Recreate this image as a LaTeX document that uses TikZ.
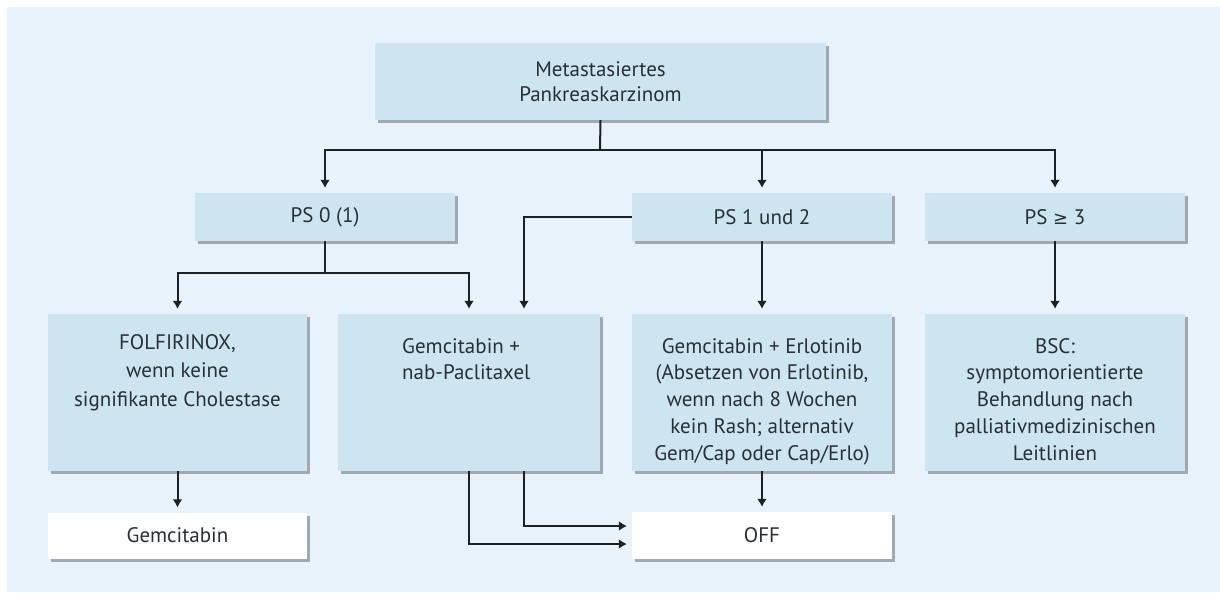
\documentclass[tikz,border=0pt]{standalone}
\usepackage{fontspec}
\setmainfont{PT Sans}
\newfontfamily\symfont{DejaVu Sans}
\usetikzlibrary{shadows,arrows.meta}
\definecolor{panel}{HTML}{E8F2FB}
\definecolor{boxfill}{HTML}{CDE4F1}
\definecolor{ink}{HTML}{283036}
\definecolor{lineink}{HTML}{1C2126}
\begin{document}
\begin{tikzpicture}[x=1pt,y=-1pt,
  shadowed/.style={drop shadow={shadow xshift=2.5pt,shadow yshift=-3pt,fill=black,opacity=0.3}},
  box/.style={shadowed,fill=boxfill,draw=none,inner sep=0pt,text=ink,align=center,
    font=\fontsize{21}{25}\selectfont},
  whitebox/.style={box,fill=white},
  txt/.style={text=ink,inner sep=0pt,align=center,font=\fontsize{21}{26.8}\selectfont},
  conn/.style={draw=lineink,line width=2pt},
  arr/.style={conn,-{Latex[length=8pt,width=10pt]},shorten >=5pt}
]
\useasboundingbox (0,0) rectangle (1220,592);
\fill[white] (0,0) rectangle (1220,592);
\fill[panel] (7,7) rectangle (1220,592);

% level 0
\node[box,minimum width=451pt,minimum height=77pt] (top) at (600.5,81.5) {Metastasiertes\\Pankreaskarzinom};

% level 1
\node[box,minimum width=260pt,minimum height=48pt] (ps0) at (325,217) {PS 0 (1)};
\node[box,minimum width=260pt,minimum height=48pt] (ps12) at (762,217) {PS 1 und 2};
\node[box,minimum width=260pt,minimum height=48pt] (ps3) at (1055,217) {PS {\symfont\fontsize{18}{25}\selectfont ≥} 3};

% level 2
\node[box,minimum width=259pt,minimum height=157pt] (folf) at (177.5,392.5) {};
\node[box,minimum width=262pt,minimum height=157pt] (gemnab) at (469,392.5) {};
\node[box,minimum width=260pt,minimum height=157pt] (gemerlo) at (762,392.5) {};
\node[box,minimum width=260pt,minimum height=157pt] (bsc) at (1055,392.5) {};

\node[txt,anchor=north,font=\fontsize{21}{28.5}\selectfont] (folft) at (177.5,334) {FOLFIRINOX,\\wenn keine\\signifikante Cholestase};
\node[txt,anchor=north west,align=left] (gemnabt) at (402,338) {Gemcitabin +\\nab-Paclitaxel};
\node[txt,anchor=north] (gemerlot) at (762,338) {Gemcitabin + Erlotinib\\(Absetzen von Erlotinib,\\wenn nach 8 Wochen\\kein Rash; alternativ\\Gem/Cap oder Cap/Erlo)};
\node[txt,anchor=north] (bsct) at (1055,338) {BSC:\\symptomorientierte\\Behandlung nach\\palliativmedizinischen\\Leitlinien};

% level 3
\node[whitebox,minimum width=259pt,minimum height=46pt] (gemc) at (177.5,535.5) {Gemcitabin};
\node[whitebox,minimum width=260pt,minimum height=47pt] (off) at (762,535.5) {OFF};

% connectors
\coordinate (j1) at (600,150);
\coordinate (j2) at (325,273);
\draw[conn] (top.south) -- (j1);
\draw[arr] (j1) -| (ps0.north);
\draw[arr] (j1) -| (ps12.north);
\draw[arr] (j1) -| (ps3.north);

\draw[conn] (ps0.south) -- (j2);
\draw[arr] (j2) -| (folf.north);
\draw[arr] (j2) -| (gemnab.north);

\draw[arr] (ps12.west) -| ([xshift=55pt]gemnab.north);
\draw[arr] (ps12.south) -- (gemerlo.north);
\draw[arr] (ps3.south) -- (bsc.north);

\draw[arr] (folf.south) -- (gemc.north);
\draw[arr] (gemerlo.south) -- (off.north);
\draw[arr] (gemnab.south) |- ([yshift=-8.5pt]off.west);
\draw[arr] ([xshift=55pt]gemnab.south) |- ([yshift=9.5pt]off.west);
\end{tikzpicture}
\end{document}
